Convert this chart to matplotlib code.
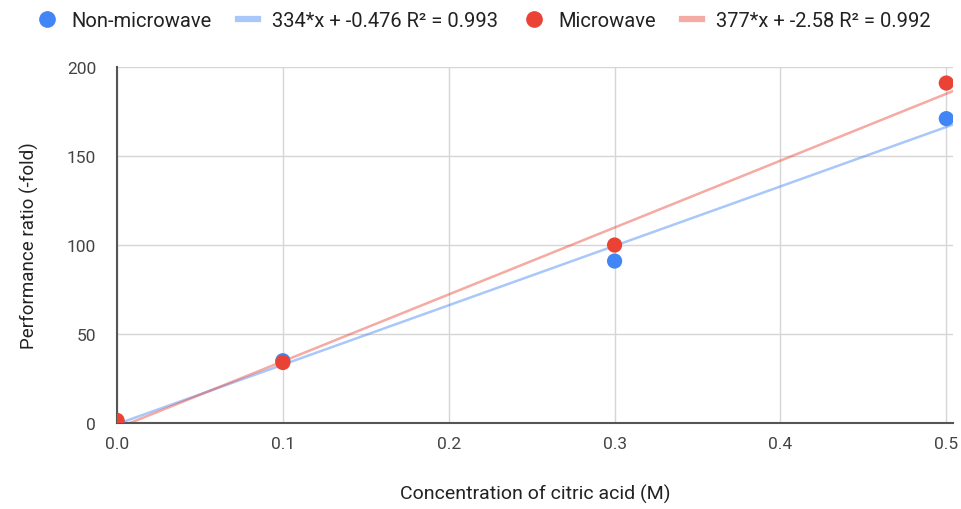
import numpy as np
import matplotlib.pyplot as plt
from matplotlib.lines import Line2D

plt.rcParams['font.family'] = ['Roboto', 'DejaVu Sans']

conc = [0.0, 0.1, 0.3, 0.5]
non_microwave = [1, 35, 91, 171]
microwave = [1.5, 34, 100, 191]

label_non = 'Non-microwave'
label_mw = 'Microwave'
trend_non = '334*x + -0.476 R² = 0.993'
trend_mw = '377*x + -2.58 R² = 0.992'

blue = '#4285F4'
red = '#EA4335'

fig = plt.figure(figsize=(9.62, 5.1), dpi=100)
ax = fig.add_axes([0.1216, 0.1686, 0.869, 0.698])

xlim = (0, 0.504)
xs = np.array(xlim)
for y, c in [(non_microwave, blue), (microwave, red)]:
    k, b = np.polyfit(conc, y, 1)
    ax.plot(xs, k * xs + b, color=c, alpha=0.45, lw=1.8, zorder=2)
    ax.scatter(conc, y, s=120, color=c, zorder=3, edgecolors='none')

ax.set_xlim(*xlim)
ax.set_ylim(0, 200)
ax.set_xticks([0, 0.1, 0.2, 0.3, 0.4, 0.5])
ax.set_yticks([0, 50, 100, 150, 200])
ax.xaxis.set_major_formatter(plt.FuncFormatter(lambda v, p: f'{v:.1f}'))
ax.grid(True, color='#d6d6d6', lw=1)
ax.set_axisbelow(True)
for s in ['top', 'right']:
    ax.spines[s].set_visible(False)
for s in ['left', 'bottom']:
    ax.spines[s].set_color('#555555')
    ax.spines[s].set_linewidth(1.5)
ax.tick_params(length=0, labelsize=12.5, colors='#444444')
ax.tick_params(axis='y', pad=15)
ax.tick_params(axis='x', pad=9)
ax.set_xlabel('Concentration of citric acid (M)', fontsize=14, color='#222222', labelpad=24)
ax.set_ylabel('Performance ratio (-fold)', fontsize=13.5, color='#222222', labelpad=20)

handles = [
    Line2D([], [], marker='o', ls='none', color=blue, markersize=11),
    Line2D([], [], color=blue, alpha=0.45, lw=4.5),
    Line2D([], [], marker='o', ls='none', color=red, markersize=11),
    Line2D([], [], color=red, alpha=0.45, lw=4.5),
]
fig.legend(handles, [label_non, trend_non, label_mw, trend_mw], loc='center',
           bbox_to_anchor=(0.503, 0.957), ncol=4, frameon=False, fontsize=14.5,
           handlelength=1.0, handletextpad=0.7, columnspacing=1.3,
           labelcolor='#222222')

fig.savefig('out.png', dpi=100)
